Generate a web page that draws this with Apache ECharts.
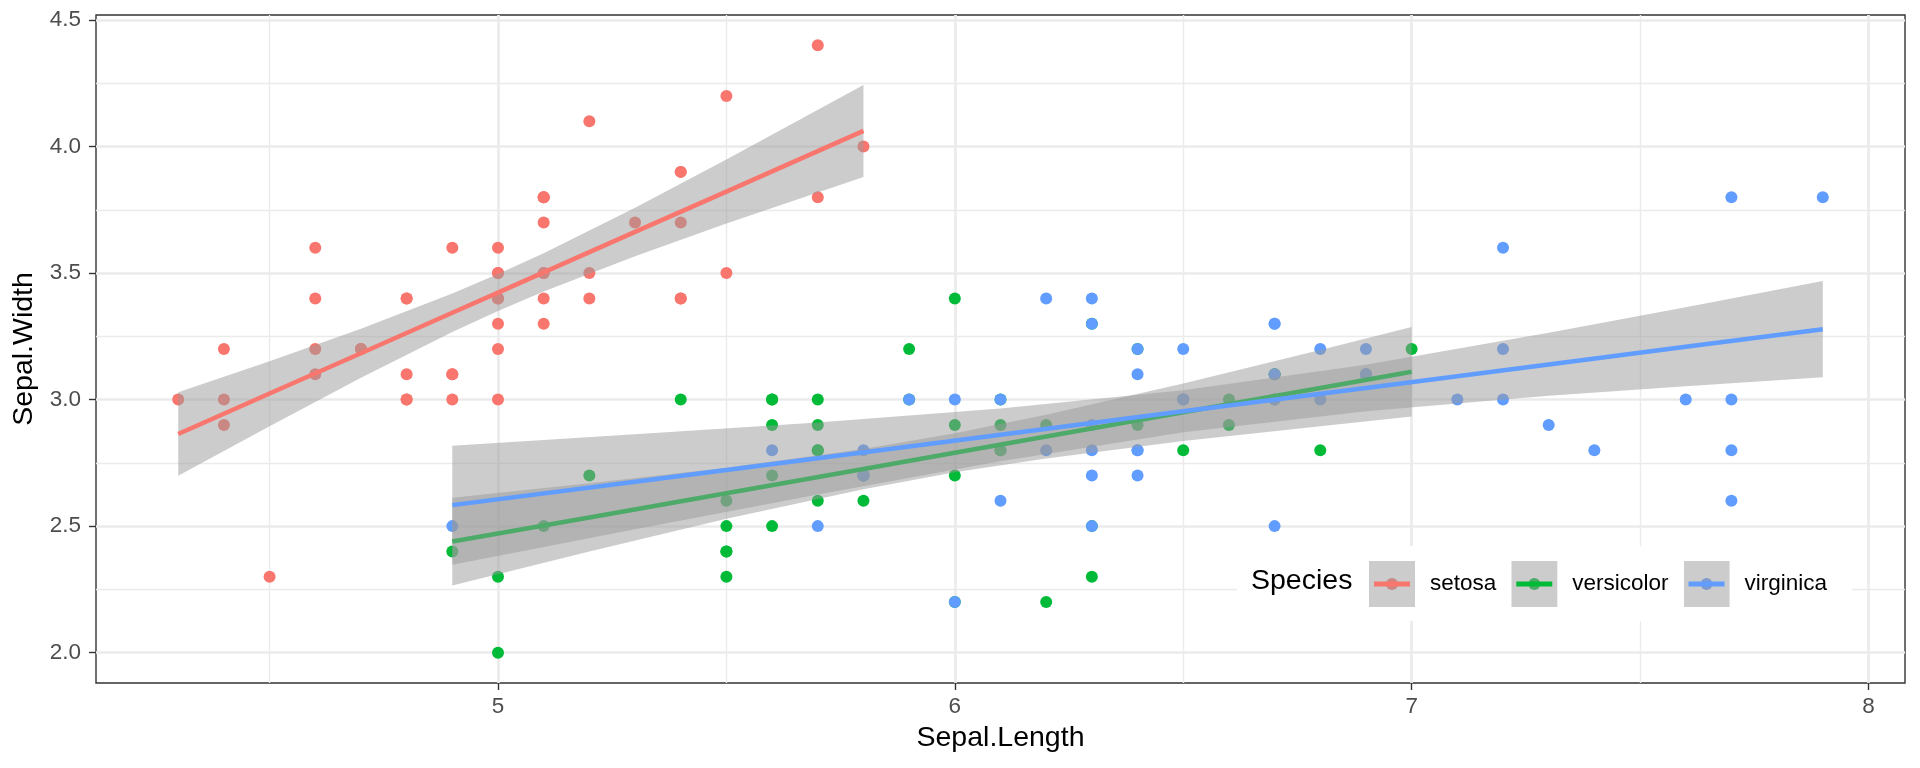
<!DOCTYPE html>
<html>
<head>
<meta charset="utf-8">
<script src="https://cdn.jsdelivr.net/npm/echarts@6/dist/echarts.min.js"></script>
<style>
html,body{margin:0;padding:0;background:#fff;}
#chart{width:1920px;height:768px;}
</style>
</head>
<body>
<div id="chart"></div>
<script>
// ---------- data (iris) ----------
const species = ['setosa', 'versicolor', 'virginica'];

const setosaLength = [5.1,4.9,4.7,4.6,5.0,5.4,4.6,5.0,4.4,4.9,5.4,4.8,4.8,4.3,5.8,5.7,5.4,5.1,5.7,5.1,5.4,5.1,4.6,5.1,4.8,5.0,5.0,5.2,5.2,4.7,4.8,5.4,5.2,5.5,4.9,5.0,5.5,4.9,4.4,5.1,5.0,4.5,4.4,5.0,5.1,4.8,5.1,4.6,5.3,5.0];
const setosaWidth  = [3.5,3.0,3.2,3.1,3.6,3.9,3.4,3.4,2.9,3.1,3.7,3.4,3.0,3.0,4.0,4.4,3.9,3.5,3.8,3.8,3.4,3.7,3.6,3.3,3.4,3.0,3.4,3.5,3.4,3.2,3.1,3.4,4.1,4.2,3.1,3.2,3.5,3.6,3.0,3.4,3.5,2.3,3.2,3.5,3.8,3.0,3.8,3.2,3.7,3.3];

const versicolorLength = [7.0,6.4,6.9,5.5,6.5,5.7,6.3,4.9,6.6,5.2,5.0,5.9,6.0,6.1,5.6,6.7,5.6,5.8,6.2,5.6,5.9,6.1,6.3,6.1,6.4,6.6,6.8,6.7,6.0,5.7,5.5,5.5,5.8,6.0,5.4,6.0,6.7,6.3,5.6,5.5,5.5,6.1,5.8,5.0,5.6,5.7,5.7,6.2,5.1,5.7];
const versicolorWidth  = [3.2,3.2,3.1,2.3,2.8,2.8,3.3,2.4,2.9,2.7,2.0,3.0,2.2,2.9,2.9,3.1,3.0,2.7,2.2,2.5,3.2,2.8,2.5,2.8,2.9,3.0,2.8,3.0,2.9,2.6,2.4,2.4,2.7,2.7,3.0,3.4,3.1,2.3,3.0,2.5,2.6,3.0,2.6,2.3,2.7,3.0,2.9,2.9,2.5,2.8];

const virginicaLength = [6.3,5.8,7.1,6.3,6.5,7.6,4.9,7.3,6.7,7.2,6.5,6.4,6.8,5.7,5.8,6.4,6.5,7.7,7.7,6.0,6.9,5.6,7.7,6.3,6.7,7.2,6.2,6.1,6.4,7.2,7.4,7.9,6.4,6.3,6.1,7.7,6.3,6.4,6.0,6.9,6.7,6.9,5.8,6.8,6.7,6.7,6.3,6.5,6.2,5.9];
const virginicaWidth  = [3.3,2.7,3.0,2.9,3.0,3.0,2.5,2.9,2.5,3.6,3.2,2.7,3.0,2.5,2.8,3.2,3.0,3.8,2.6,2.2,3.2,2.8,2.8,2.7,3.3,3.2,2.8,3.0,2.8,3.0,2.8,3.8,2.8,2.8,2.6,3.0,3.4,3.1,3.0,3.1,3.1,3.1,2.7,3.2,3.3,3.0,2.5,3.0,3.4,3.0];

// linear fit and 95% band
const setosaFitX = [4.3,4.5,4.7,4.9,5.0,5.1,5.3,5.5,5.8];
const setosaFit  = [2.864,3.024,3.183,3.343,3.423,3.503,3.663,3.822,4.062];
const setosaLo   = [2.699,2.895,3.086,3.267,3.350,3.427,3.567,3.696,3.880];
const setosaHi   = [3.029,3.152,3.280,3.419,3.496,3.578,3.758,3.949,4.243];

const versicolorFitX = [4.9,5.2,5.5,5.8,6.0,6.2,6.5,6.8,7.0];
const versicolorFit  = [2.439,2.534,2.630,2.726,2.790,2.854,2.950,3.046,3.110];
const versicolorLo   = [2.265,2.400,2.529,2.646,2.713,2.767,2.836,2.895,2.933];
const versicolorHi   = [2.612,2.669,2.731,2.805,2.867,2.940,3.064,3.196,3.287];

const virginicaFitX = [4.9,5.3,5.7,6.1,6.5,6.9,7.3,7.6,7.9];
const virginicaFit  = [2.583,2.675,2.768,2.861,2.954,3.046,3.139,3.209,3.278];
const virginicaLo   = [2.347,2.488,2.625,2.756,2.871,2.954,3.015,3.053,3.088];
const virginicaHi   = [2.818,2.863,2.910,2.965,3.037,3.138,3.264,3.365,3.469];

// axis ticks
const xTicks = [5, 6, 7, 8];
const xMinor = [4.5, 5.5, 6.5, 7.5];
const yTicks = [2.0, 2.5, 3.0, 3.5, 4.0, 4.5];
const yMinor = [2.25, 2.75, 3.25, 3.75, 4.25];
const xRange = [4.12, 8.08];
const yRange = [1.88, 4.52];

// ---------- styles ----------
const palette = ['#F8766D', '#00BA38', '#619CFF'];
const FONT = "'Liberation Sans', Arial, Helvetica, sans-serif";
const ribbonFill = 'rgba(153,153,153,0.5)';

const groups = [
  {name: 'setosa', sx: setosaLength, sy: setosaWidth, fx: setosaFitX, fy: setosaFit, lo: setosaLo, hi: setosaHi},
  {name: 'versicolor', sx: versicolorLength, sy: versicolorWidth, fx: versicolorFitX, fy: versicolorFit, lo: versicolorLo, hi: versicolorHi},
  {name: 'virginica', sx: virginicaLength, sy: virginicaWidth, fx: virginicaFitX, fy: virginicaFit, lo: virginicaLo, hi: virginicaHi}
];

function legendIcon(color) {
  const svg = '<svg xmlns="http://www.w3.org/2000/svg" width="56" height="46" viewBox="0 0 56 46">' +
    '<rect x="0" y="0" width="46" height="46" fill="#ffffff"/>' +
    '<circle cx="23" cy="23" r="6" fill="' + color + '"/>' +
    '<rect x="0" y="0" width="46" height="46" fill="' + ribbonFill + '"/>' +
    '<line x1="5" y1="23" x2="41" y2="23" stroke="' + color + '" stroke-width="5"/>' +
    '</svg>';
  return 'image://data:image/svg+xml;charset=utf-8,' + encodeURIComponent(svg);
}

function bandRenderer(xs, lo, hi) {
  return function (params, api) {
    if (params.dataIndex !== 0) return null;
    const pts = [];
    for (let i = 0; i < xs.length; i++) pts.push(api.coord([xs[i], hi[i]]));
    for (let i = xs.length - 1; i >= 0; i--) pts.push(api.coord([xs[i], lo[i]]));
    return {type: 'polygon', shape: {points: pts}, style: {fill: ribbonFill}, silent: true};
  };
}

const series = [];

// gridlines (drawn via markLine through the axes' scales)
const gridLine = (w) => ({color: '#EBEBEB', width: w, type: 'solid'});
series.push({
  name: '_grid', type: 'line', data: [], z: 0, silent: true, animation: false,
  markLine: {
    z: 0, zlevel: 0,
    silent: true, symbol: ['none', 'none'], label: {show: false}, animation: false,
    emphasis: {disabled: true},
    data: [].concat(
      xMinor.map(v => ({xAxis: v, lineStyle: gridLine(1.4)})),
      yMinor.map(v => ({yAxis: v, lineStyle: gridLine(1.4)})),
      xTicks.map(v => ({xAxis: v, lineStyle: gridLine(2.7)})),
      yTicks.map(v => ({yAxis: v, lineStyle: gridLine(2.7)}))
    )
  }
});

// points
groups.forEach((g, i) => {
  series.push({
    name: g.name, type: 'scatter', z: 6, animation: false,
    symbol: 'circle', symbolSize: 12,
    itemStyle: {color: palette[i], opacity: 1},
    data: g.sx.map((x, k) => [x, g.sy[k]])
  });
});

// smooth bands and lines
groups.forEach((g, i) => {
  series.push({
    name: g.name + ' band', type: 'custom', z: 7 + 2 * i, animation: false, silent: true,
    renderItem: bandRenderer(g.fx, g.lo, g.hi),
    encode: {x: 0, y: [1, 2]},
    data: g.fx.map((x, k) => [x, g.lo[k], g.hi[k]])
  });
  series.push({
    name: g.name + ' fit', type: 'line', z: 8 + 2 * i, animation: false, silent: true,
    symbol: 'none', lineStyle: {color: palette[i], width: 4.5},
    data: g.fx.map((x, k) => [x, g.fy[k]])
  });
});

const chart = echarts.init(document.getElementById('chart'), null, {renderer: 'canvas'});
chart.setOption({
  backgroundColor: '#ffffff',
  animation: false,
  textStyle: {fontFamily: FONT},
  grid: {left: 96, right: 15, top: 15, bottom: 85, show: true, borderColor: '#333333', borderWidth: 1.4, backgroundColor: '#ffffff', containLabel: false},
  xAxis: {
    type: 'value', min: xRange[0], max: xRange[1],
    name: 'Sepal.Length', nameLocation: 'middle', nameGap: 41,
    nameTextStyle: {fontSize: 28.5, color: '#000000', fontFamily: FONT},
    axisLine: {show: false},
    axisTick: {show: true, length: 7, lineStyle: {color: '#333333', width: 1.4}, customValues: xTicks},
    axisLabel: {show: true, customValues: xTicks, margin: 12, fontSize: 22.5, color: '#4D4D4D', fontFamily: FONT,
      formatter: v => String(v)},
    splitLine: {show: false}, minorSplitLine: {show: false}
  },
  yAxis: {
    type: 'value', min: yRange[0], max: yRange[1],
    name: 'Sepal.Width', nameLocation: 'middle', nameGap: 56, nameRotate: 90,
    nameTextStyle: {fontSize: 28.5, color: '#000000', fontFamily: FONT},
    axisLine: {show: false},
    axisTick: {show: true, length: 7, lineStyle: {color: '#333333', width: 1.4}, customValues: yTicks},
    axisLabel: {show: true, customValues: yTicks, margin: 15, fontSize: 22.5, color: '#4D4D4D', fontFamily: FONT,
      formatter: v => Number(v).toFixed(1)},
    splitLine: {show: false}, minorSplitLine: {show: false}
  },
  legend: {
    show: true, left: 1369, top: 561, orient: 'horizontal', padding: 0,
    itemWidth: 56, itemHeight: 46, itemGap: 15, selectedMode: false, z: 20,
    textStyle: {fontSize: 22.5, color: '#000000', fontFamily: FONT},
    data: species.map((s, i) => ({name: s, icon: legendIcon(palette[i])}))
  },
  graphic: [
    {type: 'rect', left: 1237, top: 546, z: 15, silent: true, shape: {width: 615, height: 75}, style: {fill: '#ffffff'}},
    {type: 'text', left: 1251, top: 567, z: 21, silent: true, style: {text: 'Species', fontSize: 28.5, fill: '#000000', fontFamily: FONT}}
  ],
  tooltip: {show: false},
  series: series
});
</script>
</body>
</html>
